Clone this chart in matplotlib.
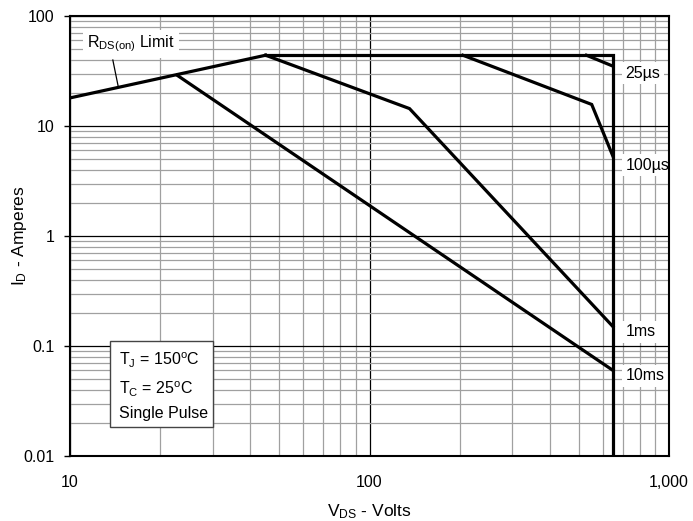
import numpy as np
import matplotlib
matplotlib.use('Agg')
import matplotlib.pyplot as plt
from matplotlib.patches import Rectangle

plt.rcParams['font.family'] = ['Liberation Sans', 'DejaVu Sans']
plt.rcParams['mathtext.default'] = 'regular'

# safe operating area curves (V, A)
rds_v = [10, 45]
rds_i = [18, 44]
limit_v = [45, 650, 650]
limit_i = [44, 44, 0.01]
us25_v = [530, 650]
us25_i = [44, 35]
us100_v = [205, 552, 650]
us100_i = [44, 15.7, 5.3]
ms1_v = [45, 136, 650]
ms1_i = [44, 14.4, 0.15]
ms10_v = [22.8, 650]
ms10_i = [28.9, 0.06]

curve_labels = ['25µs', '100µs', '1ms', '10ms']
label_i = [30.3, 4.42, 0.135, 0.0534]

x_ticks = [10, 100, 1000]
x_ticklabels = ['10', '100', '1,000']
y_ticks = [0.01, 0.1, 1, 10, 100]
y_ticklabels = ['0.01', '0.1', '1', '10', '100']

fs = 11.5

fig = plt.figure(figsize=(6.93, 5.21), dpi=100)
ax = fig.add_axes([70/693, 65/521, 599/693, 440/521])
ax.set_xscale('log')
ax.set_yscale('log')
ax.set_xlim(10, 1000)
ax.set_ylim(0.01, 100)

ax.grid(which='minor', color='#a0a0a0', lw=0.9, zorder=0)
ax.grid(which='major', color='black', lw=0.9, zorder=0)
ax.set_axisbelow(True)

lw = 2.3
for v, i in [(rds_v, rds_i), (limit_v, limit_i), (us25_v, us25_i),
             (us100_v, us100_i), (ms1_v, ms1_i), (ms10_v, ms10_i)]:
    ax.plot(v, i, color='black', lw=lw, solid_joinstyle='miter', zorder=3)

# curve labels
for lab, yi in zip(curve_labels, label_i):
    ax.text(715, yi, lab, ha='left', va='center', fontsize=fs, zorder=4,
            bbox=dict(fc='white', ec='none', pad=2.5))

# RDS(on) limit label
ax.text(16, 55.7, r'R$_{DS(on)}$ Limit', ha='center', va='center', fontsize=fs,
        zorder=4, bbox=dict(fc='white', ec='none', pad=3))
ax.plot([13.9, 14.5], [39.8, 22.6], color='black', lw=0.9, zorder=4)

# conditions box
ax.add_patch(Rectangle((0.0668, 0.0666), 0.1714, 0.1954, transform=ax.transAxes,
                       fc='white', ec='#444444', lw=1, zorder=4))
ax.text(0.0823, 0.218, r'T$_J$ = 150$^o$C', transform=ax.transAxes,
        ha='left', va='center', fontsize=fs, zorder=5)
ax.text(0.0823, 0.152, r'T$_C$ = 25$^o$C', transform=ax.transAxes,
        ha='left', va='center', fontsize=fs, zorder=5)
ax.text(0.0823, 0.0955, 'Single Pulse', transform=ax.transAxes,
        ha='left', va='center', fontsize=fs, zorder=5)

ax.set_xticks(x_ticks)
ax.set_xticklabels(x_ticklabels)
ax.set_yticks(y_ticks)
ax.set_yticklabels(y_ticklabels)
ax.tick_params(which='minor', length=0)
ax.tick_params(axis='x', which='major', length=0, pad=14, labelsize=fs)
ax.tick_params(axis='y', which='major', length=4, width=1, pad=7, labelsize=fs)
for s in ax.spines.values():
    s.set_linewidth(1.5)
    s.set_zorder(6)

ax.set_xlabel(r'V$_{DS}$ - Volts', fontsize=12.5)
ax.xaxis.set_label_coords(0.5, -0.127)
ax.xaxis.label.set_va('center')
ax.set_ylabel(r'I$_D$ - Amperes', fontsize=12.5)
ax.yaxis.set_label_coords(-0.0835, 0.5)
ax.yaxis.label.set_va('center')

fig.savefig('out.png', dpi=100)
